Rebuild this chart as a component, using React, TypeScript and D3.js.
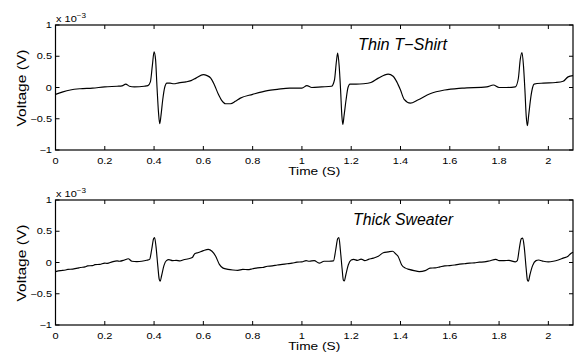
import React from "react";
import * as d3 from "d3";

// readings in units of 1e-3 V, time in seconds
const thinShirt: [number, number][] = [
  [0, -0.11], [0.03, -0.07], [0.06, -0.04], [0.1, -0.02], [0.15, -0.01], [0.2, 0.01],
  [0.25, 0.02], [0.27, 0.025], [0.285, 0.055], [0.3, 0.02], [0.32, 0.01], [0.36, 0.02],
  [0.375, 0.03], [0.385, 0.09], [0.393, 0.35], [0.4, 0.57], [0.406, 0.45], [0.412, 0.0],
  [0.418, -0.4], [0.423, -0.58], [0.428, -0.45], [0.435, -0.2], [0.443, 0.0], [0.452, 0.07],
  [0.465, 0.07], [0.48, 0.06], [0.5, 0.075], [0.53, 0.09], [0.55, 0.11], [0.57, 0.15],
  [0.6, 0.205], [0.615, 0.19], [0.63, 0.15], [0.645, 0.04], [0.66, -0.1], [0.675, -0.21],
  [0.69, -0.26], [0.71, -0.26], [0.73, -0.22], [0.75, -0.17], [0.8, -0.11], [0.86, -0.05],
  [0.9, -0.03], [0.95, -0.01], [1.0, -0.01], [1.02, 0.03], [1.04, 0.0], [1.08, 0.01],
  [1.12, 0.02], [1.132, 0.12], [1.14, 0.42], [1.145, 0.55], [1.151, 0.35], [1.157, -0.05],
  [1.162, -0.45], [1.166, -0.59], [1.171, -0.45], [1.179, -0.2], [1.187, 0.0], [1.195, 0.055],
  [1.22, 0.055], [1.25, 0.06], [1.28, 0.08], [1.31, 0.15], [1.35, 0.215], [1.37, 0.18],
  [1.385, 0.09], [1.4, -0.04], [1.415, -0.19], [1.44, -0.25], [1.47, -0.2], [1.52, -0.1],
  [1.58, -0.04], [1.65, -0.01], [1.75, 0.01], [1.777, 0.04], [1.8, 0.0], [1.83, 0.0],
  [1.866, 0.01], [1.878, 0.14], [1.886, 0.45], [1.893, 0.56], [1.899, 0.35], [1.905, -0.05],
  [1.91, -0.45], [1.915, -0.61], [1.92, -0.45], [1.929, -0.15], [1.936, 0.0], [1.942, 0.055],
  [1.98, 0.07], [2.03, 0.08], [2.06, 0.1], [2.08, 0.17], [2.1, 0.19],
];

const thickSweater: [number, number][] = [
  [0, -0.145], [0.02, -0.13], [0.04, -0.12], [0.05, -0.11], [0.07, -0.105], [0.09, -0.09],
  [0.1, -0.08], [0.12, -0.07], [0.13, -0.055], [0.15, -0.05], [0.16, -0.035], [0.18, -0.03],
  [0.2, -0.01], [0.21, -0.015], [0.23, 0.01], [0.25, 0.025], [0.26, 0.02], [0.28, 0.04],
  [0.295, 0.06], [0.31, 0.02], [0.33, 0.015], [0.35, 0.02], [0.37, 0.035], [0.382, 0.05],
  [0.39, 0.2], [0.398, 0.38], [0.402, 0.4], [0.408, 0.25], [0.415, -0.05], [0.421, -0.27],
  [0.425, -0.3], [0.43, -0.22], [0.44, -0.05], [0.45, 0.03], [0.46, 0.045], [0.475, 0.03],
  [0.49, 0.035], [0.505, 0.025], [0.52, 0.045], [0.54, 0.06], [0.555, 0.08], [0.565, 0.14],
  [0.58, 0.16], [0.6, 0.19], [0.62, 0.21], [0.635, 0.18], [0.65, 0.1], [0.665, -0.03],
  [0.68, -0.09], [0.7, -0.11], [0.72, -0.12], [0.74, -0.125], [0.76, -0.11], [0.78, -0.115],
  [0.8, -0.1], [0.82, -0.085], [0.84, -0.08], [0.86, -0.06], [0.88, -0.055], [0.9, -0.04],
  [0.92, -0.03], [0.94, -0.02], [0.96, -0.01], [0.98, 0.005], [1.0, 0.01], [1.017, 0.03],
  [1.03, 0.02], [1.05, 0.03], [1.07, -0.01], [1.09, 0.02], [1.11, 0.02], [1.128, 0.025],
  [1.137, 0.2], [1.145, 0.38], [1.15, 0.4], [1.156, 0.2], [1.163, -0.1], [1.168, -0.28],
  [1.172, -0.295], [1.178, -0.2], [1.188, -0.04], [1.2, 0.04], [1.21, 0.05], [1.225, 0.035],
  [1.24, 0.055], [1.255, 0.03], [1.27, 0.05], [1.29, 0.07], [1.31, 0.1], [1.33, 0.155],
  [1.35, 0.17], [1.368, 0.18], [1.38, 0.14], [1.39, 0.1], [1.405, -0.04], [1.42, -0.09],
  [1.435, -0.11], [1.455, -0.13], [1.476, -0.145], [1.5, -0.13], [1.52, -0.09], [1.54, -0.085],
  [1.56, -0.07], [1.58, -0.055], [1.6, -0.05], [1.62, -0.04], [1.64, -0.025], [1.66, -0.02],
  [1.68, -0.01], [1.7, -0.005], [1.72, 0.005], [1.74, 0.01], [1.76, 0.025], [1.787, 0.05],
  [1.8, 0.03], [1.82, 0.03], [1.84, 0.035], [1.866, 0.01], [1.874, 0.03], [1.882, 0.22],
  [1.89, 0.38], [1.896, 0.39], [1.902, 0.25], [1.91, -0.1], [1.915, -0.28], [1.919, -0.3],
  [1.925, -0.2], [1.936, -0.05], [1.95, 0.03], [1.96, 0.04], [1.98, 0.02], [2.0, 0.01],
  [2.02, 0.02], [2.04, 0.04], [2.06, 0.07], [2.08, 0.1], [2.09, 0.14], [2.1, 0.165],
];

const xTicks = [0, 0.2, 0.4, 0.6, 0.8, 1, 1.2, 1.4, 1.6, 1.8, 2];
const yTicks = [-1, -0.5, 0, 0.5, 1];

const W = 579;
const H = 356;
const left = 55.5;
const right = 573;
const plotH = 125;
const font = "Helvetica, Arial, 'Liberation Sans', sans-serif";
// the source figure is stretched sideways, so small labels are widened
const sx = 1.25;

const fmt = (v: number) => (v < 0 ? "\u2212" + String(-v) : String(v));

function Panel({
  top,
  data,
  title,
  titleX,
  titleW,
}: {
  top: number;
  data: [number, number][];
  title: string;
  titleX: number;
  titleW: number;
}) {
  const x = d3.scaleLinear().domain([0, 2.1]).range([left, right]);
  const y = d3.scaleLinear().domain([-1, 1]).range([top + plotH, top]);
  const line = d3
    .line<[number, number]>()
    .x((d) => x(d[0]))
    .y((d) => y(d[1]))
    .curve(d3.curveMonotoneX);
  const tk = 4;

  return (
    <g>
      <path d={line(data) || ""} fill="none" stroke="#000" strokeWidth={1.15} />
      <rect x={left} y={top} width={right - left} height={plotH} fill="none" stroke="#000" strokeWidth={1.2} />
      {xTicks.map((t) => (
        <g key={"x" + t}>
          <line x1={x(t)} x2={x(t)} y1={top + plotH} y2={top + plotH - tk} stroke="#000" />
          <line x1={x(t)} x2={x(t)} y1={top} y2={top + tk} stroke="#000" />
          <text
            transform={`translate(${x(t)},${top + plotH + 13.5}) scale(${sx},1)`}
            textAnchor="middle"
            fontSize={8.8}
          >
            {fmt(t)}
          </text>
        </g>
      ))}
      {yTicks.map((v) => (
        <g key={"y" + v}>
          <line x1={left} x2={left + tk} y1={y(v)} y2={y(v)} stroke="#000" />
          <line x1={right} x2={right - tk} y1={y(v)} y2={y(v)} stroke="#000" />
          <text
            transform={`translate(${left - 3.5},${y(v) + 3}) scale(${sx},1)`}
            textAnchor="end"
            fontSize={8.8}
          >
            {fmt(v)}
          </text>
        </g>
      ))}
      <text transform={`translate(${left + 0.5},${top - 3}) scale(${sx},1)`} fontSize={8.8}>
        x 10
        <tspan dy={-4.5} fontSize={6.5}>{"\u22123"}</tspan>
      </text>
      <text
        x={(left + right) / 2}
        y={top + plotH + 24.5}
        textAnchor="middle"
        fontSize={11}
        textLength={52}
        lengthAdjust="spacingAndGlyphs"
      >
        Time (S)
      </text>
      <text
        transform={`translate(25.5,${top + 63}) rotate(-90)`}
        textAnchor="middle"
        fontSize={13.5}
        textLength={77}
        lengthAdjust="spacingAndGlyphs"
      >
        Voltage (V)
      </text>
      <text
        x={titleX}
        y={top + 25}
        fontSize={16}
        fontStyle="italic"
        textLength={titleW}
        lengthAdjust="spacingAndGlyphs"
      >
        {title}
      </text>
    </g>
  );
}

export default function App() {
  return (
    <svg
      width={W}
      height={H}
      style={{ position: "absolute", left: 0, top: 0, background: "#fff", fontFamily: font }}
    >
      <rect width={W} height={H} fill="#fff" />
      <Panel top={25} data={thinShirt} title={"Thin T\u2212Shirt"} titleX={358} titleW={89} />
      <Panel top={200} data={thickSweater} title="Thick Sweater" titleX={353} titleW={100} />
    </svg>
  );
}
